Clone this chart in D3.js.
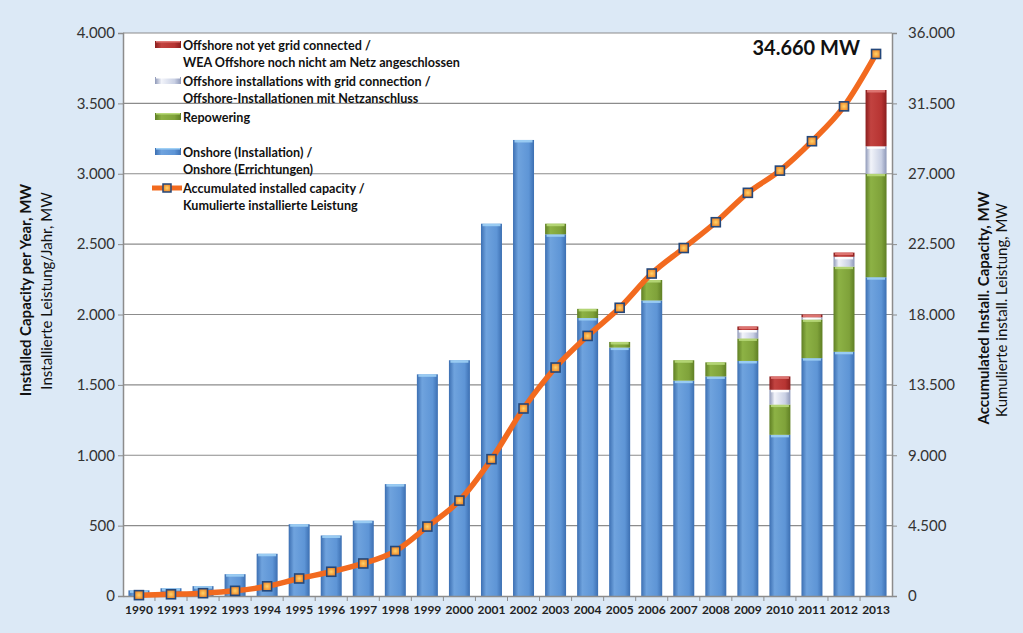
<!DOCTYPE html>
<html><head><meta charset="utf-8">
<script src="https://cdn.jsdelivr.net/npm/d3@7"></script>
<style>
html,body{margin:0;padding:0;background:#dce9f6;}
svg{display:block;font-family:Lato,"Open Sans",sans-serif;}
</style></head>
<body><svg id="c" width="1023" height="633"></svg>
<script>
const years = [1990,1991,1992,1993,1994,1995,1996,1997,1998,1999,2000,2001,2002,2003,2004,2005,2006,2007,2008,2009,2010,2011,2012,2013];
const onshore = [40,55,70,155,300,510,430,535,795,1575,1675,2645,3240,2570,1975,1765,2100,1530,1560,1670,1145,1690,1735,2265];
const repowering = [0,0,0,0,0,0,0,0,0,0,0,0,0,75,65,40,145,145,100,160,215,275,605,735];
const offshoreGrid = [0,0,0,0,0,0,0,0,0,0,0,0,0,0,0,0,0,0,0,60,105,15,70,195];
const offshoreNotGrid = [0,0,0,0,0,0,0,0,0,0,0,0,0,0,0,0,0,0,0,25,95,20,30,400];
const cumulative = [55,110,180,330,620,1120,1550,2080,2875,4440,6100,8750,11990,14610,16630,18430,20620,22250,23900,25780,27200,29080,31310,34660];
const leftTicks = [0,500,1000,1500,2000,2500,3000,3500,4000];
const rightTicks = [0,4500,9000,13500,18000,22500,27000,31500,36000];
const seriesNames = ["onshore","repowering","offshoreGrid","offshoreNotGrid"];

const svg = d3.select("#c");
const L = 123, R = 892, T = 33, B = 596;
const x = d3.scaleBand().domain(years).range([L, R]).paddingInner(0.345).paddingOuter(0.17);
const y = d3.scaleLinear().domain([0, 4000]).range([B, T]);
const y2 = d3.scaleLinear().domain([0, 36000]).range([B, T]);
const fmt = v => d3.format(",")(v).replace(/,/g, ".");

const colors = {
  onshore: {dark:"#3c6fb2", mid:"#5e95d6", light:"#6fa3de", cap:"#9fd0f5"},
  repowering: {dark:"#5f7f24", mid:"#7fa23a", light:"#8db245", cap:"#b8d97a"},
  offshoreGrid: {dark:"#8e98b8", mid:"#c9d0e4", light:"#f2f4fa", cap:"#ffffff"},
  offshoreNotGrid: {dark:"#8a1e1e", mid:"#b73432", light:"#c24340", cap:"#e07a77"}
};
const defs = svg.append("defs");
seriesNames.forEach(k => {
  const g = defs.append("linearGradient").attr("id","g_"+k).attr("x1","0").attr("x2","1").attr("y1","0").attr("y2","0");
  g.append("stop").attr("offset","0%").attr("stop-color",colors[k].dark);
  g.append("stop").attr("offset","25%").attr("stop-color",colors[k].light);
  g.append("stop").attr("offset","75%").attr("stop-color",colors[k].mid);
  g.append("stop").attr("offset","100%").attr("stop-color",colors[k].dark);
});
const mg = defs.append("radialGradient").attr("id","mk");
mg.append("stop").attr("offset","0%").attr("stop-color","#ffd36a");
mg.append("stop").attr("offset","100%").attr("stop-color","#f08a2a");

// plot background
svg.append("rect").attr("x",L).attr("y",T).attr("width",R-L).attr("height",B-T).attr("fill","#fff");

// gridlines
svg.append("g").selectAll("line").data(leftTicks.filter(d=>d>0)).join("line")
  .attr("x1",L).attr("x2",R).attr("y1",d=>y(d)).attr("y2",d=>y(d))
  .attr("stroke","#8c8c8c").attr("stroke-width",1.2);

// stacked bars
const table = years.map((yr,i)=>({year:yr, onshore:onshore[i], repowering:repowering[i], offshoreGrid:offshoreGrid[i], offshoreNotGrid:offshoreNotGrid[i]}));
const stack = d3.stack().keys(seriesNames)(table);
const bw = x.bandwidth();
stack.forEach(layer => {
  const k = layer.key;
  const g = svg.append("g");
  const segs = layer.filter(d => d[1]-d[0] > 0);
  g.selectAll("rect.b").data(segs).join("rect").attr("class","b")
    .attr("x",d=>x(d.data.year)).attr("width",bw)
    .attr("y",d=>y(d[1])).attr("height",d=>y(d[0])-y(d[1]))
    .attr("fill","url(#g_"+k+")");
  g.selectAll("rect.c").data(segs).join("rect").attr("class","c")
    .attr("x",d=>x(d.data.year)+1.5).attr("width",bw-3)
    .attr("y",d=>y(d[1])).attr("height",d=>Math.min(2.5, y(d[0])-y(d[1])))
    .attr("fill",colors[k].cap).attr("opacity",0.9);
});

// axes
const axL = svg.append("g").attr("transform",`translate(${L},0)`).call(d3.axisLeft(y).tickValues(leftTicks).tickFormat(fmt).tickSize(5).tickPadding(3));
const axR = svg.append("g").attr("transform",`translate(${R},0)`).call(d3.axisRight(y2).tickValues(rightTicks).tickFormat(fmt).tickSize(5).tickPadding(11));
[axL,axR].forEach(a=>{
  a.select(".domain").attr("stroke","#8c8c8c").attr("stroke-width",1.5);
  a.selectAll(".tick line").attr("stroke","#8c8c8c");
  a.selectAll("text").attr("font-family","Lato, sans-serif").attr("font-size",15).attr("fill","#333");
});
const axB = svg.append("g").attr("transform",`translate(0,${B})`).call(d3.axisBottom(x).tickSize(0).tickPadding(9));
axB.select(".domain").attr("stroke","#8c8c8c").attr("stroke-width",1.5);
axB.selectAll("text").attr("font-family","Lato, sans-serif").attr("font-weight","bold").attr("font-size",12).attr("fill","#222");
// band separator ticks
const step = x.step();
svg.append("g").selectAll("line").data(years.slice(1)).join("line")
  .attr("x1",d=>x(d)-step*x.paddingInner()/2).attr("x2",d=>x(d)-step*x.paddingInner()/2)
  .attr("y1",B).attr("y2",B+5).attr("stroke","#8c8c8c");

// cumulative line
const cx = d => x(d) + bw/2;
const lineData = years.map((yr,i)=>({year:yr, v:cumulative[i]}));
svg.append("path").datum(lineData)
  .attr("d", d3.line().x(d=>cx(d.year)).y(d=>y2(d.v)).curve(d3.curveMonotoneX))
  .attr("fill","none").attr("stroke","#f26a1f").attr("stroke-width",5.5).attr("stroke-linejoin","round");
svg.append("g").selectAll("rect").data(lineData).join("rect")
  .attr("x",d=>cx(d.year)-4.5).attr("y",d=>y2(d.v)-4.5).attr("width",9).attr("height",9)
  .attr("fill","url(#mk)").attr("stroke","#24477a").attr("stroke-width",1.6);

svg.append("text").attr("x",860).attr("y",55).attr("text-anchor","end")
  .attr("font-family","Lato, sans-serif").attr("font-weight","bold").attr("font-size",20).attr("fill","#111")
  .text(fmt(cumulative[cumulative.length-1]) + " MW");

// legend
const lg = svg.append("g").attr("font-family","Lato, sans-serif").attr("font-weight","bold").attr("font-size",12.6).attr("fill","#111");
const legendItems = [
  {k:"offshoreNotGrid", y:45, lines:["Offshore not yet grid connected /","WEA Offshore noch nicht am Netz angeschlossen"]},
  {k:"offshoreGrid", y:81, lines:["Offshore installations with grid connection /","Offshore-Installationen mit Netzanschluss"]},
  {k:"repowering", y:117, lines:["Repowering"]},
  {k:"onshore", y:152, lines:["Onshore (Installation) /","Onshore (Errichtungen)"]}
];
legendItems.forEach(it=>{
  lg.append("rect").attr("x",155).attr("y",it.y-4).attr("width",26).attr("height",7).attr("fill","url(#g_"+it.k+")");
  lg.append("rect").attr("x",156).attr("y",it.y-4).attr("width",24).attr("height",1.5).attr("fill",colors[it.k].cap);
  it.lines.forEach((t,j)=>lg.append("text").attr("x",183).attr("y",it.y+4.5+j*17.5).text(t));
});
lg.append("line").attr("x1",152).attr("x2",182).attr("y1",188).attr("y2",188).attr("stroke","#f26a1f").attr("stroke-width",5);
lg.append("rect").attr("x",163).attr("y",184).attr("width",8).attr("height",8).attr("fill","url(#mk)").attr("stroke","#24477a").attr("stroke-width",1.5);
lg.append("text").attr("x",183).attr("y",192.5).text("Accumulated installed capacity /");
lg.append("text").attr("x",183).attr("y",210).text("Kumulierte installierte Leistung");

// axis titles
function vtitle(cx, cy, bold, txt, size){
  svg.append("text").attr("transform",`translate(${cx},${cy}) rotate(-90)`).attr("text-anchor","middle")
    .attr("dominant-baseline","middle")
    .attr("font-family","Lato, sans-serif").attr("font-weight",bold?"bold":"normal").attr("font-size",size).attr("fill","#111").text(txt);
}
vtitle(27, 290, true, "Installed Capacity per Year, MW", 15);
vtitle(48, 291, false, "Installierte Leistung/Jahr, MW", 15);
vtitle(985, 308, true, "Accumulated Install. Capacity, MW", 15);
vtitle(1003, 310, false, "Kumulierte install. Leistung, MW", 15);
</script></body></html>
